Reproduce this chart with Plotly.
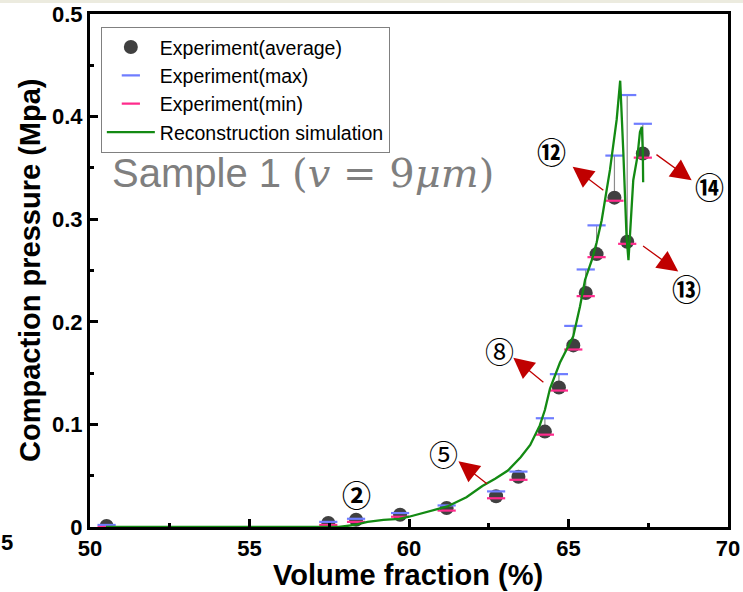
import plotly.graph_objects as go

# Experimental compaction data: volume fraction (%) and pressure (MPa)
vol_frac = [50.52, 57.47, 58.34, 59.72, 61.18, 62.73, 63.43, 64.26, 64.70,
            65.15, 65.54, 65.88, 66.44, 66.84, 67.33]
p_avg = [0.001, 0.004, 0.007, 0.012, 0.0185, 0.030, 0.049, 0.093, 0.136,
         0.177, 0.228, 0.266, 0.321, 0.278, 0.364]
p_max = [0.002, 0.005, 0.008, 0.0136, 0.021, 0.0347, 0.054, 0.106, 0.149,
         0.196, 0.251, 0.294, 0.362, 0.421, 0.393]
p_min = [0.000, 0.002, 0.005, 0.010, 0.016, 0.028, 0.046, 0.090, 0.133,
         0.173, 0.225, 0.263, 0.318, 0.276, 0.360]

# Reconstruction simulation curve
sim_x = [50.5, 57.8, 58.3, 58.7, 59.2, 59.7, 60.0, 60.5, 61.2, 61.8, 62.3,
         62.7, 63.1, 63.5, 63.8, 64.1, 64.26, 64.42, 64.6, 64.73, 64.94,
         65.15, 65.36, 65.52, 65.73, 65.88, 66.04, 66.30, 66.51, 66.62,
         66.72, 66.82, 66.88, 67.03, 67.16, 67.24, 67.30, 67.33, 67.34]
sim_y = [0.0, 0.0, 0.002, 0.005, 0.007, 0.008, 0.010, 0.014, 0.020, 0.029,
         0.040, 0.047, 0.055, 0.068, 0.080, 0.099, 0.114, 0.135, 0.150,
         0.160, 0.173, 0.186, 0.215, 0.241, 0.260, 0.277, 0.299, 0.348,
         0.397, 0.435, 0.364, 0.283, 0.260, 0.338, 0.361, 0.385, 0.390,
         0.365, 0.336]

# Numbered stage labels and their arrows (label position, arrow tail, arrow head)
stage_labels = ["②", "⑤", "⑧", "⑫", "⑬", "⑭"]
label_weight = ["bold", "normal", "normal", "bold", "bold", "bold"]
label_x = [58.34, 61.08, 62.85, 64.47, 68.71, 69.41]
label_y = [0.032, 0.072, 0.173, 0.366, 0.233, 0.332]
arrow_tail_x = [None, 62.49, 64.26, 66.14, 67.29, 67.71]
arrow_tail_y = [None, 0.041, 0.140, 0.327, 0.275, 0.364]
arrow_head_x = [None, 61.55, 63.27, 65.13, 68.44, 68.86]
arrow_head_y = [None, 0.064, 0.165, 0.351, 0.249, 0.338]

x_ticks = [50, 55, 60, 65, 70]
y_ticks = [0, 0.1, 0.2, 0.3, 0.4, 0.5]
y_tick_text = ["0", "0.1", "0.2", "0.3", "0.4", "0.5"]

fig = go.Figure()

err_plus = [mx - av for mx, av in zip(p_max, p_avg)]
fig.add_trace(go.Scatter(
    x=vol_frac, y=p_avg, mode="markers", name="Experiment(average)",
    marker=dict(symbol="circle", size=14, color="#404040"),
    error_y=dict(type="data", symmetric=False, array=err_plus,
                 arrayminus=[0] * len(p_avg), color="#8c8c8c",
                 thickness=1.2, width=0),
))
fig.add_trace(go.Scatter(
    x=vol_frac, y=p_max, mode="markers", name="Experiment(max)",
    marker=dict(symbol="line-ew", size=13, color="#6f7dff",
                line=dict(color="#6f7dff", width=2.2)),
))
fig.add_trace(go.Scatter(
    x=vol_frac, y=p_min, mode="markers", name="Experiment(min)",
    marker=dict(symbol="line-ew", size=13, color="#ff2b8c",
                line=dict(color="#ff2b8c", width=2.2)),
))
fig.add_trace(go.Scatter(
    x=sim_x, y=sim_y, mode="lines", name="Reconstruction simulation",
    line=dict(color="#138a13", width=2.3),
))

annotations = []
for i, lab in enumerate(stage_labels):
    annotations.append(dict(
        x=label_x[i], y=label_y[i], xref="x", yref="y", text=lab,
        showarrow=False, font=dict(family="Noto Sans CJK JP", size=29,
                                   color="black", weight=label_weight[i]),
    ))
    if arrow_tail_x[i] is not None:
        annotations.append(dict(
            x=arrow_head_x[i], y=arrow_head_y[i], xref="x", yref="y",
            ax=arrow_tail_x[i], ay=arrow_tail_y[i], axref="x", ayref="y",
            text="", showarrow=True, arrowhead=2, arrowsize=3.2,
            arrowwidth=1.3, arrowcolor="#c00000",
        ))

# Sample caption with the fibre size in math style
annotations.append(dict(
    x=50.63, y=0.345, xref="x", yref="y", xanchor="left", yanchor="middle",
    text=("Sample 1 <span style='font-family:DejaVu Serif'>(<i>v</i> = 9"
          "<i>μm</i>)</span>"),
    showarrow=False, font=dict(family="Arial", size=40, color="#7f7f7f"),
))
# Axis titles
annotations.append(dict(
    x=0.498, y=-0.094, xref="paper", yref="paper", xanchor="center",
    yanchor="middle", text="Volume fraction (%)", showarrow=False,
    font=dict(family="Arial", size=29, color="black", weight="bold"),
))
annotations.append(dict(
    x=-0.094, y=0.501, xref="paper", yref="paper", xanchor="center",
    yanchor="middle", text="Compaction pressure (Mpa)", showarrow=False,
    textangle=-90,
    font=dict(family="Arial", size=29, color="black", weight="bold"),
))
annotations.append(dict(
    x=-0.142, y=-0.031, xref="paper", yref="paper", xanchor="left",
    yanchor="middle", text="5", showarrow=False,
    font=dict(family="Arial", size=22, color="black", weight="bold"),
))

fig.update_layout(
    width=743, height=592,
    margin=dict(l=90, r=15, t=14, b=65),
    paper_bgcolor="white", plot_bgcolor="white",
    showlegend=True,
    legend=dict(x=0.017, y=0.975, xanchor="left", yanchor="top",
                bgcolor="white", bordercolor="#808080", borderwidth=1,
                font=dict(family="Arial", size=19.5, color="black"),
                itemwidth=48, tracegroupgap=0),
    annotations=annotations,
    shapes=[dict(type="rect", xref="paper", yref="paper", x0=-0.2, x1=1.1,
                 y0=1.0214, y1=1.04, fillcolor="#ecebdf", line=dict(width=0),
                 layer="below")],
)

fig.update_xaxes(
    range=[50, 70], tickvals=x_ticks, ticks="inside", ticklen=8,
    tickwidth=2.5, tickcolor="black", showgrid=False, zeroline=False,
    showline=True, linecolor="black", linewidth=3, mirror=True,
    automargin=False,
    minor=dict(ticks="inside", ticklen=4, tickwidth=2.5, tickcolor="black",
               dtick=2.5),
    tickfont=dict(family="Arial", size=22, color="black", weight="bold"),
)
fig.update_yaxes(
    range=[0, 0.5], tickvals=y_ticks, ticktext=y_tick_text,
    ticks="inside", ticklen=8, tickwidth=2.5, tickcolor="black",
    showgrid=False, zeroline=False, showline=True, linecolor="black",
    linewidth=3, mirror=True, automargin=False,
    minor=dict(ticks="inside", ticklen=4, tickwidth=2.5, tickcolor="black",
               dtick=0.05),
    tickfont=dict(family="Arial", size=22, color="black", weight="bold"),
)

fig.write_html("out.html")
